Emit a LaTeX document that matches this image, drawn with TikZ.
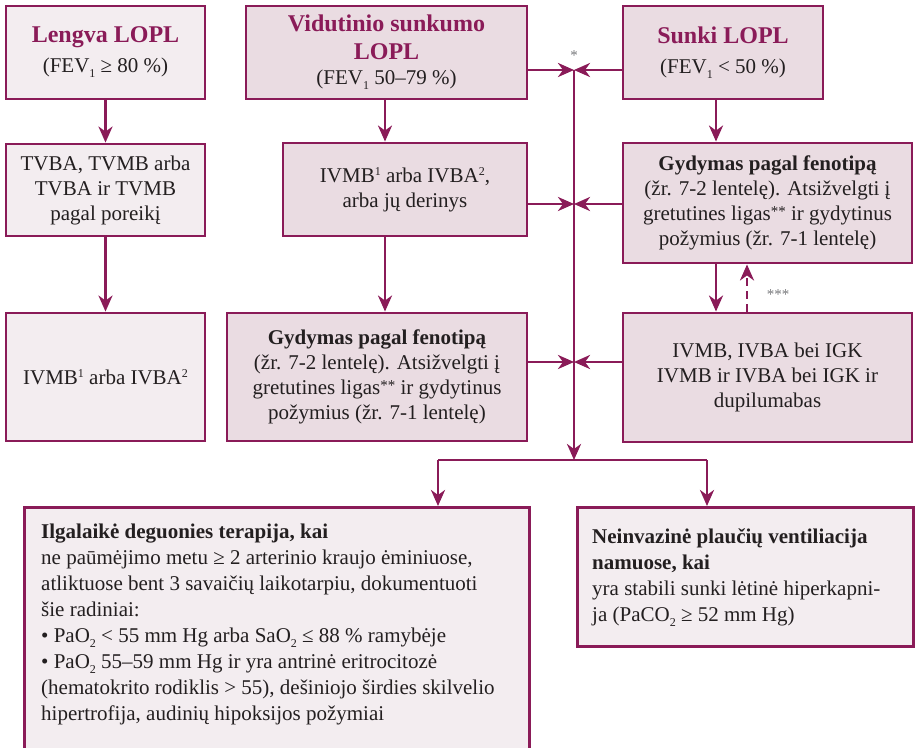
\documentclass[tikz,border=0pt]{standalone}
\usepackage{fontspec}
\setmainfont{Liberation Serif}
\usetikzlibrary{arrows.meta,calc}
\definecolor{lopl}{HTML}{8A1B58}
\definecolor{fillD}{HTML}{EADCE2}
\definecolor{fillL}{HTML}{F3EDF0}
\definecolor{txtc}{HTML}{231F20}
\definecolor{starc}{HTML}{77787B}
\newcommand\hdr[1]{{\fontsize{24}{28}\selectfont\bfseries\color{lopl}#1}}
\newcommand\fsub[1]{\raisebox{-5pt}{\fontsize{12}{12}\selectfont #1}}
\newcommand\fsup[1]{\raisebox{7pt}{\fontsize{12}{12}\selectfont #1}}
\newcommand\stars{\raisebox{4pt}{\fontsize{15}{15}\selectfont **}}
\begin{document}
\begin{tikzpicture}[x=1pt,y=-1pt,
  box/.style={draw=lopl, line width=2.9pt, text=txtc, align=center, inner sep=0pt,
    font=\fontsize{21}{25}\selectfont},
  dbox/.style={box, fill=fillD},
  lbox/.style={box, fill=fillL},
  btext/.style={text=txtc, align=left, inner sep=0pt, anchor=north west,
    font=\fontsize{21}{26}\selectfont},
  arr/.style={draw=lopl, line width=2.9pt, -{Stealth[length=16pt,width=14pt,inset=5pt]}},
  starlbl/.style={text=starc, inner sep=0pt, font=\fontsize{15}{15}\selectfont}]
\useasboundingbox (0,0) rectangle (915,747);
\clip (0,0) rectangle (915,747);

% top row
\node[lbox, minimum width=199pt, minimum height=93pt] (A) at (105.5,52.5)
  {\hdr{Lengva LOPL}\\[5pt] (FEV\fsub{1} ≥ 80 \%)};
\node[dbox, minimum width=281pt, minimum height=93pt] (B) at (386.5,52.5)
  {\hdr{Vidutinio sunkumo}\\[3pt] \hdr{LOPL}\\ (FEV\fsub{1} 50–79 \%)};
\node[dbox, minimum width=200pt, minimum height=93pt] (C) at (723,52.5)
  {\hdr{Sunki LOPL}\\[5pt] (FEV\fsub{1} < 50 \%)};

% second row
\node[lbox, minimum width=199pt, minimum height=92pt] (D) at (105.5,190)
  {TVBA, TVMB arba\\ TVBA ir TVMB\\ pagal poreikį};
\node[dbox, minimum width=244pt, minimum height=93pt] (E) at (405,189.5)
  {IVMB\fsup{1} arba IVBA\fsup{2},\\ arba jų derinys};
\node[dbox, minimum width=289pt, minimum height=120pt] (F) at (767.5,203)
  {\textbf{Gydymas pagal fenotipą}\\ (žr. 7-2 lentelę). Atsižvelgti į\\ gretutines ligas\stars{} ir gydytinus\\ požymius (žr. 7-1 lentelę)};

% third row
\node[lbox, minimum width=199pt, minimum height=128pt] (G) at (105.5,377)
  {IVMB\fsup{1} arba IVBA\fsup{2}};
\node[dbox, minimum width=300pt, minimum height=128pt] (H) at (377,377)
  {\textbf{Gydymas pagal fenotipą}\\ (žr. 7-2 lentelę). Atsižvelgti į\\ gretutines ligas\stars{} ir gydytinus\\ požymius (žr. 7-1 lentelę)};
\node[dbox, minimum width=289pt, minimum height=129pt] (I) at (767.5,377.5)
  {IVMB, IVBA bei IGK\\ IVMB ir IVBA bei IGK ir\\ dupilumabas};

% bottom row
\node[lbox, anchor=north west, minimum width=505pt, minimum height=300pt] (J) at (23,506) {};
\node[btext] (Jt) at (41,524)
  {\textbf{Ilgalaikė deguonies terapija, kai}\\
   ne paūmėjimo metu ≥ 2 arterinio kraujo ėminiuose,\\
   atliktuose bent 3 savaičių laikotarpiu, dokumentuoti\\
   šie radiniai:\\
   • PaO\fsub{2} < 55 mm Hg arba SaO\fsub{2} ≤ 88 \% ramybėje\\
   • PaO\fsub{2} 55–59 mm Hg ir yra antrinė eritrocitozė\\
   (hematokrito rodiklis > 55), dešiniojo širdies skilvelio\\
   hipertrofija, audinių hipoksijos požymiai};
\node[lbox, anchor=north west, minimum width=336pt, minimum height=139pt] (K) at (576,506) {};
\node[btext] (Kt) at (592,528)
  {\textbf{Neinvazinė plaučių ventiliacija}\\
   \textbf{namuose, kai}\\
   yra stabili sunki lėtinė hiperkapni-\\
   ja (PaCO\fsub{2} ≥ 52 mm Hg)};

% junctions
\coordinate (j1) at (574,70);
\coordinate (m1) at (574,204);
\coordinate (m2) at (574,362);
\coordinate (j2) at (574,460);
\coordinate (sL) at (438,460);
\coordinate (sR) at (707,460);

% connectors
\draw[arr] (A.south) -- (D.north);
\draw[arr] (D.south) -- (G.north);
\draw[arr] ([xshift=-1.5pt]B.south) -- ([xshift=-1.5pt]B.south |- E.north);
\draw[arr] ([xshift=-1.5pt]B.south |- E.south) -- ([xshift=-1.5pt]B.south |- H.north);
\draw[arr] ([xshift=-7pt]C.south) -- ([xshift=-7pt]C.south |- F.north);
\draw[arr] ([xshift=-51.5pt]F.south) -- ([xshift=-51.5pt]F.south |- I.north);
\draw[arr, dash pattern=on 8pt off 5pt] ([xshift=-20.5pt]I.north) -- ([xshift=-20.5pt]I.north |- F.south);

\draw[arr] (B.east |- j1) -- (j1);
\draw[arr] (C.west |- j1) -- (j1);
\draw[arr] (E.east |- m1) -- (m1);
\draw[arr] (F.west |- m1) -- (m1);
\draw[arr] (H.east |- m2) -- (m2);
\draw[arr] (I.west |- m2) -- (m2);
\draw[arr] (sL) -- (sL |- J.north);
\draw[arr] (sR) -- (sR |- K.north);
\draw[draw=lopl, line width=2.9pt] (sL) -- (sR);
\draw[arr] (j1) -- (j2);

% footnote marks
\node[starlbl] (s1) at (574,56) {*};
\node[starlbl] (s3) at (778,295) {***};
\end{tikzpicture}
\end{document}
